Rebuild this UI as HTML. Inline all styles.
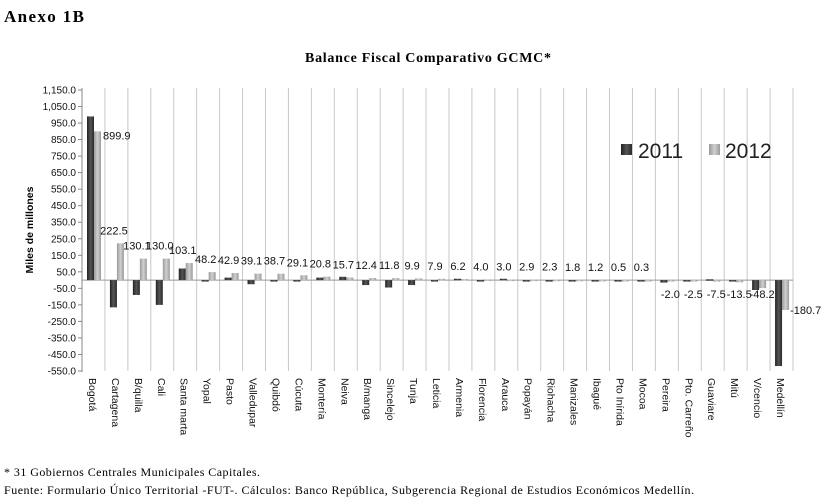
<!DOCTYPE html>
<html><head><meta charset="utf-8"><style>
body{margin:0;background:#fff;width:829px;height:501px;overflow:hidden}
svg{display:block}
.s{font-family:"Liberation Serif",serif}
.a{font-family:"Liberation Sans",sans-serif}
</style></head><body>
<svg id="c" width="829" height="501">
<defs>
<linearGradient id="gd" x1="0" x2="1"><stop offset="0" stop-color="#222"/><stop offset="0.5" stop-color="#555"/><stop offset="1" stop-color="#2a2a2a"/></linearGradient>
<linearGradient id="gl" x1="0" x2="1"><stop offset="0" stop-color="#999"/><stop offset="0.5" stop-color="#d0d0d0"/><stop offset="1" stop-color="#9a9a9a"/></linearGradient>
</defs>
<text class="s" x="4" y="22" font-size="17" font-weight="bold" textLength="80">Anexo 1B</text>
<text class="s" x="305" y="62" font-size="14" font-weight="bold" textLength="246">Balance Fiscal Comparativo GCMC*</text>
<text class="a" transform="translate(33,230) rotate(-90)" font-size="10.5" font-weight="bold" text-anchor="middle">Miles de millones</text>
<g id="grid"></g><g id="bars"></g><g id="labels"></g>
<g>
<rect x="621" y="144" width="11" height="11" fill="url(#gd)"/>
<text class="a" x="638" y="158" font-size="21" fill="#222">2011</text>
<rect x="709" y="144" width="11" height="11" fill="url(#gl)"/>
<text class="a" x="725" y="158" font-size="21" fill="#222">2012</text>
</g>
<text class="s" x="4" y="476" font-size="12" textLength="256">* 31 Gobiernos Centrales Municipales Capitales.</text>
<text class="s" x="4" y="494" font-size="12" textLength="690">Fuente: Formulario Único Territorial -FUT-. Cálculos: Banco República, Subgerencia Regional de Estudios Económicos Medellín.</text>
</svg>
<script>
const categories=["Bogotá","Cartagena","B/quilla","Cali","Santa marta","Yopal","Pasto","Valledupar","Quibdó","Cúcuta","Montería","Neiva","B/manga","Sincelejo","Tunja","Leticia","Armenia","Florencia","Arauca","Popayán","Riohacha","Manizales","Ibagué","Pto Inírida","Mocoa","Pereira","Pto. Carreño","Guaviare","Mitú","V/cencio","Medellín"];
const values2011=[990,-165,-90,-150,70,-8,15,-25,0,0,15,20,-30,-45,-30,-3,8,-5,8,-5,-5,0,-5,0,0,-15,0,5,-5,-60,-520];
const values2012=[899.9,222.5,130.1,130.0,103.1,48.2,42.9,39.1,38.7,29.1,20.8,15.7,12.4,11.8,9.9,7.9,6.2,4.0,3.0,2.9,2.3,1.8,1.2,0.5,0.3,-2.0,-2.5,-7.5,-13.5,-48.2,-180.7];
const yTicks=[1150,1050,950,850,750,650,550,450,350,250,150,50,-50,-150,-250,-350,-450,-550];
const NS="http://www.w3.org/2000/svg";
const x0=82,x1=793,yTop=90,yBot=371,vMax=1150,vMin=-550;
const step=(x1-x0)/categories.length;
const y=v=>yTop+(vMax-v)*(yBot-yTop)/(vMax-vMin);
const xc=i=>x0+i*step;
function mk(tag,attrs,parent){const e=document.createElementNS(NS,tag);for(const k in attrs)e.setAttribute(k,attrs[k]);parent.appendChild(e);return e;}
const grid=document.getElementById('grid'),bars=document.getElementById('bars'),labels=document.getElementById('labels');
for(let i=1;i<=categories.length;i++){const l=mk('line',{x1:xc(i),x2:xc(i),y1:yTop-2,y2:yBot,stroke:'#c8c8c8','stroke-width':1},grid);

}
const ax=mk('line',{x1:x0,x2:x0,y1:yTop-2,y2:yBot+1,stroke:'#888'},grid);


yTicks.forEach(t=>{const tk=mk('line',{x1:x0-4,x2:x0,y1:y(t),y2:y(t),stroke:'#888'},grid);


const tx=mk('text',{x:x0-6,y:y(t)+3.5,'font-size':10,'text-anchor':'end',class:'a',fill:'#111'},grid);
tx.textContent=t.toLocaleString('en-US',{minimumFractionDigits:1,maximumFractionDigits:1});

});
const zl=mk('line',{x1:x0,x2:x1,y1:y(0),y2:y(0),stroke:'#999'},grid);


const bw=7;
categories.forEach((c,i)=>{
 const bx=xc(i)+5;
 [[values2011[i],'url(#gd)',bx,'bar-2011'],[values2012[i],'url(#gl)',bx+bw,'bar-2012']].forEach(([v,f,x,n])=>{
  const top=Math.min(y(v),y(0)),h=Math.max(Math.abs(y(v)-y(0)),1.5);
  const r=mk('rect',{x:x,y:top,width:bw,height:h,fill:f},bars);
  
  
 });
 const v=values2012[i];let lx,ly,anchor='middle';
 if(i===0){lx=bx+2*bw+2;ly=y(v)+8;anchor='start';}
 else if(i===categories.length-1){lx=bx+2*bw+1;ly=y(v)+4;anchor='start';}
 else if(v>=0){lx=bx+bw-3;ly=Math.min(y(v),y(0))-9;}
 else{lx=bx+bw+3;ly=y(0)+18;}
 const t=mk('text',{x:lx,y:ly,'font-size':11,'text-anchor':anchor,class:'a',fill:'#111'},labels);
 t.textContent=v.toFixed(1);
 
 
 const cl=mk('text',{transform:`translate(${xc(i)+step/2-4.5},${yBot+7}) rotate(90)`,'font-size':10.5,'text-anchor':'start',class:'a',fill:'#111'},labels);
 cl.textContent=c;
 
 
});
</script>
</body></html>
